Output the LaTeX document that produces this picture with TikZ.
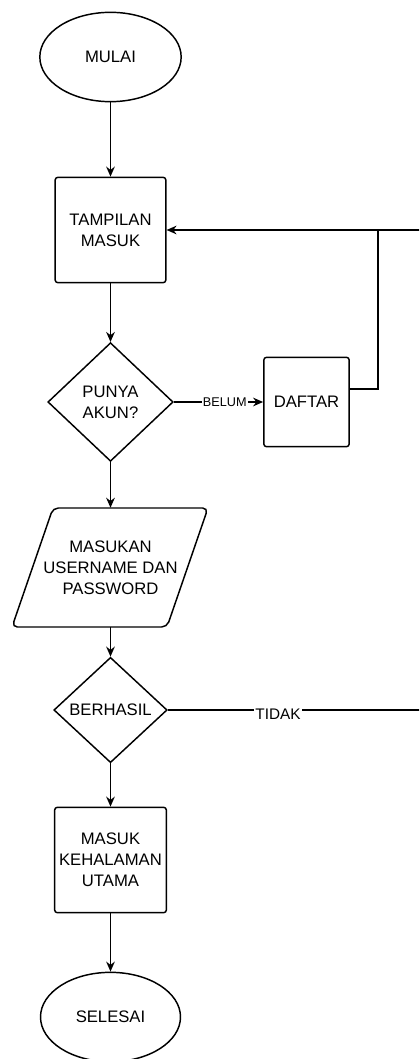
\documentclass[tikz,border=0pt]{standalone}
\usepackage{fontspec}
\setmainfont{Liberation Sans}
\usetikzlibrary{shapes.geometric,arrows.meta}

\begin{document}
\begin{tikzpicture}[x=0.75pt,y=-0.75pt,
        font=\fontsize{12.5}{15.75}\selectfont,
        terminal/.style={draw, ellipse, line width=1.1pt, minimum width=106pt, minimum height=67pt},
        proses/.style={draw, rectangle, rounded corners=2pt, line width=1.1pt, minimum width=83pt, minimum height=79pt, align=center},
        keputusan/.style={draw, diamond, line width=1.1pt, align=center, inner sep=0pt},
        panah/.style={-{Stealth[length=7.5pt,width=6.5pt]}, line width=1.1pt},
        garis/.style={line width=1.1pt},
        label/.style={fill=white, inner sep=1pt}]
            \useasboundingbox (0,0) rectangle (419,1059);
            \clip (0,0) rectangle (419,1059);
            % alur utama
            \node[terminal] (mulai) at (110.5,57) {MULAI};
            \node[proses] (tampilan) at (110.5,230) {TAMPILAN\\MASUK};
            \node[keputusan, minimum width=94pt, minimum height=89pt] (punya) at (110.5,402) {PUNYA\\AKUN?};
            \node[proses, minimum width=64pt, minimum height=67pt] (daftar) at (306.5,402) {DAFTAR};
            \node[align=center, inner sep=0pt, minimum width=117pt, minimum height=89.25pt] (masukan) at (110.5,567.5) {MASUKAN\\USERNAME DAN\\PASSWORD};
            \draw[garis, rounded corners=4pt] (130,508) -- (208,508) -- (167,627) -- (12,627) -- (53,508) -- cycle;
            \node[keputusan, minimum width=85pt, minimum height=79pt] (berhasil) at (110.5,710) {BERHASIL};
            \node[proses] (utama) at (110.5,860) {MASUK\\KEHALAMAN\\UTAMA};
            \node[terminal, minimum width=105pt] (selesai) at (110.5,1017) {SELESAI};
            \draw[panah] (mulai) -- (tampilan);
            \draw[panah] (tampilan) -- (punya);
            \draw[panah] (punya) -- node[label, pos=0.57, font=\fontsize{9.5}{11}\selectfont] {BELUM} (daftar);
            \draw[panah] (punya) -- (masukan);
            \draw[panah] (masukan) -- (berhasil);
            \draw[panah] (berhasil) -- (utama);
            \draw[panah] (utama) -- (selesai);
            % kembali ke tampilan masuk
            \coordinate (sudut) at (378,230);
            \coordinate (tepiatas) at (430,230);
            \coordinate (tepibawah) at (430,710);
            \draw[garis] ([yshift=9.75pt]daftar.east) -| (sudut);
            \draw[panah] (tepiatas) -- (tampilan.east);
            \draw[garis] (berhasil) -- node[label, pos=0.42, yshift=-3pt, font=\fontsize{11.5}{13}\selectfont] {TIDAK} (tepibawah) -- (tepiatas);
        \end{tikzpicture}
\end{document}
